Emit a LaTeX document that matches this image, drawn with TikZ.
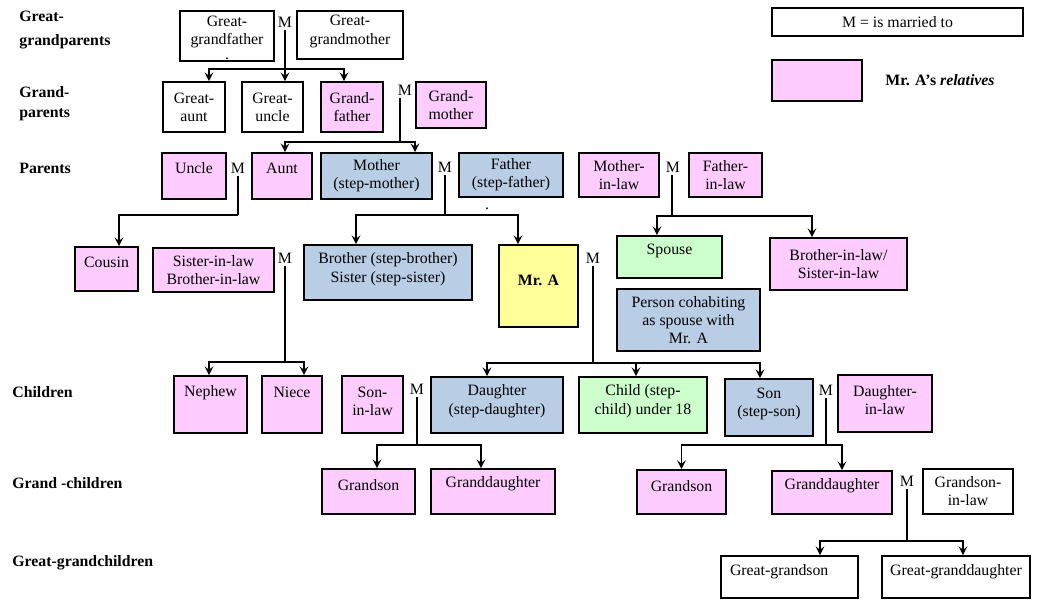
\documentclass[tikz,border=0pt]{standalone}
\usepackage{fontspec}
\setmainfont{Liberation Serif}
\usetikzlibrary{arrows.meta,calc}
\definecolor{relpink}{HTML}{FFCCFF}
\definecolor{stepblue}{HTML}{B9CDE5}
\definecolor{kidgreen}{HTML}{CCFFCC}
\definecolor{selfyellow}{HTML}{FFFF99}
\begin{document}
\begin{tikzpicture}[x=0.02cm,y=-0.02cm,
    every node/.style={font=\fontsize{9}{10.3}\selectfont},
    box/.style={draw,line width=1pt,align=center,inner sep=2pt},
    wh/.style 2 args={minimum width=#1*0.02cm,minimum height=#2*0.02cm},
    lift/.style={text depth=#1},
    rel/.style={box,fill=relpink},
    stp/.style={box,fill=stepblue},
    kid/.style={box,fill=kidgreen},
    self/.style={box,fill=selfyellow},
    row/.style={anchor=west,align=left,inner sep=0pt,font=\fontsize{9}{10.3}\selectfont\bfseries},
    mlab/.style={inner sep=1.5pt},
    arr/.style={line width=1.1pt,-{Stealth[length=5pt,width=5pt,inset=2pt]}}]
  \useasboundingbox (0,0) rectangle (1051,599);
  \draw
    (19,30) node[row] (lgg) {Great-\\[3pt]grandparents}
    (19,104) node[row] (lgp) {Grand-\\[1pt]parents}
    (19,168) node[row] (lp) {Parents}
    (12,392) node[row] (lc) {Children}
    (12,483) node[row] (lgc) {Grand -children}
    (12,563) node[row] (lggc) {Great-grandchildren};
  \draw
    (897.5,22) node[box,wh={251}{28}] (keym) {M = is married to}
    (817,80.5) node[rel,wh={90}{41}] (keyrel) {}
    (940,80) node (keytxt) {\textbf{Mr. A's \textit{relatives}}};
  \draw
    (227,36) node[box,wh={94}{50},lift=7pt] (ggf) {Great-\\grandfather}
    (350,35) node[box,wh={106}{48},lift=6pt] (ggm) {Great-\\grandmother}
    (194,107) node[box,wh={62}{50}] (gaunt) {Great-\\aunt}
    (272.5,107) node[box,wh={61}{50}] (guncle) {Great-\\uncle}
    (352,107) node[rel,wh={62}{50}] (gfather) {Grand-\\father}
    (451,105) node[rel,wh={70}{46}] (gmother) {Grand-\\mother}
    (194,176) node[rel,wh={64}{46},lift=9pt] (uncle) {Uncle}
    (282,176) node[rel,wh={60}{46},lift=9pt] (aunt) {Aunt}
    (376.5,176) node[stp,wh={111}{46}] (mother) {Mother\\(step-mother)}
    (511,175) node[stp,wh={104}{44}] (father) {Father\\(step-father)}
    (619,175) node[rel,wh={80}{44}] (mil) {Mother-\\in-law}
    (725.5,175) node[rel,wh={73}{44}] (fil) {Father-\\in-law}
    (106.5,269) node[rel,wh={63}{44},lift=8pt] (cousin) {Cousin}
    (213.5,270) node[rel,wh={121}{44}] (sil) {Sister-in-law\\Brother-in-law}
    (388,272.5) node[stp,wh={168}{55},lift=5.7pt] (brother) {Brother (step-brother)\\Sister (step-sister)}
    (538.5,286) node[self,wh={79}{82},lift=7pt] (mra) {\textbf{Mr. A}}
    (669.5,257) node[kid,wh={105}{42},lift=9pt] (spouse) {Spouse}
    (838.5,264) node[rel,wh={137}{52}] (bil) {Brother-in-law/\\Sister-in-law}
    (688.5,320) node[stp,wh={143}{62}] (cohab) {Person cohabiting\\as spouse with\\Mr. A}
    (210.5,404.5) node[rel,wh={73}{57},lift=15pt] (nephew) {Nephew}
    (292,404.5) node[rel,wh={60}{57},lift=13.7pt] (niece) {Niece}
    (372.5,404.5) node[rel,wh={61}{57},lift=4pt] (sonil) {Son-\\in-law}
    (497,405) node[stp,wh={132}{56},lift=6.3pt] (daughter) {Daughter\\(step-daughter)}
    (643,405) node[kid,wh={128}{56},lift=6.3pt] (child) {Child (step-\\child) under 18}
    (769,407.5) node[stp,wh={88}{57},lift=6.3pt] (son) {Son\\(step-son)}
    (885,403.5) node[rel,wh={94}{57},lift=4pt] (dil) {Daughter-\\in-law}
    (368.5,491.5) node[rel,wh={93}{45},lift=7.4pt] (gson1) {Grandson}
    (493,491.5) node[rel,wh={124}{45},lift=10.6pt] (gdau1) {Granddaughter}
    (681.5,492) node[rel,wh={89}{44},lift=6.8pt] (gson2) {Grandson}
    (832,492.5) node[rel,wh={120}{43},lift=9.4pt] (gdau2) {Granddaughter}
    (968,491.5) node[box,wh={90}{45}] (gsil) {Grandson-\\in-law}
    (789.5,577) node[box,wh={137}{42},lift=7.7pt,align=left,text width=2.38cm] (ggson) {Great-grandson}
    (956,577) node[box,wh={148}{42},lift=7.7pt] (ggdau) {Great-granddaughter}
    (227,59) node[inner sep=0pt] (dotA) {.}
    (487,209) node[inner sep=0pt] (dotB) {.};
  \draw
    (285,22) node[mlab] (mGG) {M}
    (405,90) node[mlab] (mGP) {M}
    (238,168) node[mlab] (mU) {M}
    (445,167) node[mlab] (mP) {M}
    (673,167) node[mlab] (mIL) {M}
    (285,258) node[mlab] (mSIL) {M}
    (593,258) node[mlab] (mA) {M}
    (417,389) node[mlab] (mSL) {M}
    (826,390) node[mlab] (mSon) {M}
    (907,481) node[mlab] (mGD) {M};
  \coordinate (jGG) at (285,69);
  \coordinate (jGP) at (400,142);
  \coordinate (jU) at (238,215);
  \coordinate (jP) at (445,215);
  \coordinate (jIL) at (672,216);
  \coordinate (jSIL) at (285,362);
  \coordinate (jA) at (593,363);
  \coordinate (jSL) at (417,445);
  \coordinate (jSon) at (826,445);
  \coordinate (jGD) at (907,541);
  \begin{scope}[line width=0.6pt]
    \draw[line width=1.1pt] (mGG.south -| jGG) -- (jGG);
    \draw (mGP.south -| jGP) -- (jGP);
    \draw (mU.south -| jU) -- (jU);
    \draw (mP.south -| jP) -- (jP);
    \draw (mIL.south -| jIL) -- (jIL);
    \draw (mSIL.south -| jSIL) -- (jSIL);
    \draw (mA.south -| jA) -- (jA);
    \draw (mSL.south -| jSL) -- (jSL);
    \draw[line width=0.9pt] (mSon.south -| jSon) -- (jSon);
    \draw (mGD.south -| jGD) -- (jGD);
  \end{scope}
  \begin{scope}[arr]
    \draw (jGG) -| ($(gaunt.north)+(15,0)$);
    \draw (jGG) -- (jGG |- guncle.north);
    \draw (jGG) -| ($(gfather.north)+(-8,0)$);
    \draw (jGP) -| ($(aunt.north)+(3,0)$);
    \draw (jGP) -| ($(mother.north)+(38.5,0)$);
    \draw (jU) -| ($(cousin.north)+(12.5,0)$);
    \draw (jP) -| ($(brother.north)+(-32,0)$);
    \draw (jP) -| ($(mra.north)+(-20.5,0)$);
    \draw (jIL) -| ($(spouse.north)+(-12.5,0)$);
    \draw (jIL) -| ($(bil.north)+(-26.5,0)$);
    \draw (jSIL) -| ($(nephew.north)+(-1.5,0)$);
    \draw (jSIL) -| ($(niece.north)+(12,0)$);
    \draw (jA) -| ($(daughter.north)+(-10,0)$);
    \draw (jA) -| ($(child.north)+(-7,0)$);
    \draw (jA) -| ($(son.north)+(-9,0)$);
    \draw (jSL) -| ($(gson1.north)+(8.5,0)$);
    \draw (jSL) -| ($(gdau1.north)+(-12,0)$);
    \draw (jSon) -| (gson2.north);
    \draw (jSon) -| ($(gdau2.north)+(10,0)$);
    \draw (jGD) -| ($(ggson.north)+(30.5,0)$);
    \draw (jGD) -| ($(ggdau.north)+(7,0)$);
  \end{scope}
\end{tikzpicture}
\end{document}
